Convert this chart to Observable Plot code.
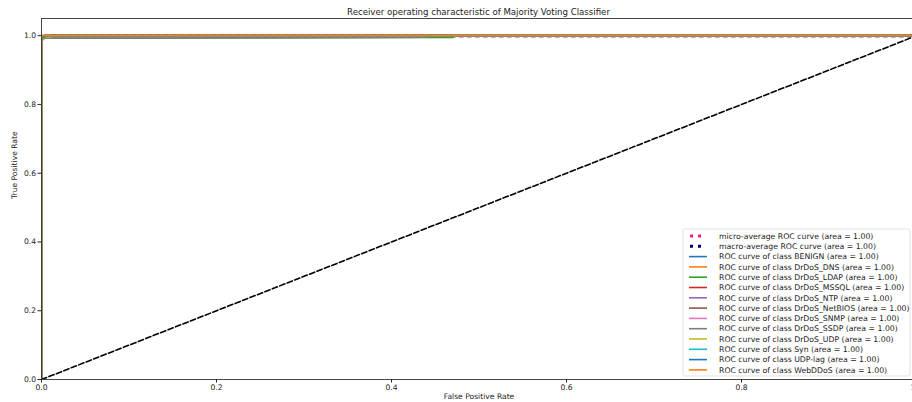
<!DOCTYPE html>
<html>
<head>
<meta charset="utf-8">
<script src="https://cdn.jsdelivr.net/npm/d3@7"></script>
<script src="https://cdn.jsdelivr.net/npm/@observablehq/plot@0.6"></script>
<style>
  html, body { margin: 0; padding: 0; background: #fff; overflow: hidden; }
  #wrap { position: relative; width: 912px; height: 402px; overflow: hidden; font-family: "DejaVu Sans", sans-serif; }
  #title { position: absolute; top: 7px; left: 0; width: 957px; text-align: center; font-size: 8.6px; color: #222; }
  #chart { position: absolute; top: 0; left: 0; width: 918px; }
  #chart svg { max-width: none !important; }
</style>
</head>
<body>
<div id="wrap">
  <div id="chart"></div>
  <div id="title">Receiver operating characteristic of Majority Voting Classifier</div>
</div>
<script>
// ROC curves (false positive rate, true positive rate) for each class
const classes = ["BENIGN", "DrDoS_DNS", "DrDoS_LDAP", "DrDoS_MSSQL", "DrDoS_NTP", "DrDoS_NetBIOS",
  "DrDoS_SNMP", "DrDoS_SSDP", "DrDoS_UDP", "Syn", "UDP-lag", "WebDDoS"];
const classColors = ["#1f77b4", "#ff7f0e", "#2ca02c", "#d62728", "#9467bd", "#8c564b",
  "#e377c2", "#7f7f7f", "#bcbd22", "#17becf", "#1f77b4", "#ff7f0e"];
const classAuc = [1.00, 1.00, 1.00, 1.00, 1.00, 1.00, 1.00, 1.00, 1.00, 1.00, 1.00, 1.00];

const classFpr = [
  [0, 0, 0.0008, 0.003, 1],
  [0, 0, 0.002, 0.006, 1],
  [0, 0, 0.004, 0.47, 0.47, 1],
  [0, 0, 0.001, 0.004, 1],
  [0, 0, 0.0005, 0.002, 1],
  [0, 0, 0.003, 0.01, 1],
  [0, 0, 0.001, 0.005, 1],
  [0, 0, 0.002, 0.44, 0.44, 1],
  [0, 0, 0.003, 0.02, 1],
  [0, 0, 0.0005, 1],
  [0, 0, 0.002, 0.008, 1],
  [0, 0, 1]
];
const classTpr = [
  [0, 0.992, 0.997, 1, 1],
  [0, 0.985, 0.996, 1, 1],
  [0, 0.988, 0.993, 0.995, 1, 1],
  [0, 0.99, 0.998, 1, 1],
  [0, 0.995, 0.999, 1, 1],
  [0, 0.982, 0.995, 1, 1],
  [0, 0.99, 0.997, 1, 1],
  [0, 0.986, 0.993, 0.996, 1, 1],
  [0, 0.984, 0.995, 1, 1],
  [0, 0.999, 1, 1],
  [0, 0.988, 0.996, 1, 1],
  [0, 1, 1]
];

// averaged curves
const microFpr = [0, 0, 0.001, 0.005, 1];
const microTpr = [0, 0.99, 0.997, 1, 1];
const macroFpr = [0, 0, 0.002, 0.01, 1];
const macroTpr = [0, 0.987, 0.996, 1, 1];
const microAuc = 1.00, macroAuc = 1.00;

// chance diagonal
const chanceFpr = [0, 1];
const chanceTpr = [0, 1];

const xTicks = [0, 0.2, 0.4, 0.6, 0.8, 1.0];
const yTicks = [0, 0.2, 0.4, 0.6, 0.8, 1.0];

const toRows = (fpr, tpr, name) => fpr.map((f, i) => ({fpr: f, tpr: tpr[i], name}));
const classRows = classes.flatMap((c, k) => toRows(classFpr[k], classTpr[k], c));
const microRows = toRows(microFpr, microTpr, "micro");
const macroRows = toRows(macroFpr, macroTpr, "macro");
const chanceRows = toRows(chanceFpr, chanceTpr, "chance");

const W = 918, H = 402;
const mL = 41, mR = 2, mT = 18, mB = 23;

const plot = Plot.plot({
  width: W,
  height: H,
  marginLeft: mL,
  marginRight: mR,
  marginTop: mT,
  marginBottom: mB,
  style: {fontFamily: "DejaVu Sans, sans-serif", fontSize: "7.6px", color: "#222", background: "#fff", maxWidth: "none"},
  x: {domain: [0, 1], ticks: xTicks, tickFormat: d3.format(".1f"), tickSize: 3.5, tickPadding: 2, label: null},
  y: {domain: [0, 1.05], ticks: yTicks, tickFormat: d3.format(".1f"), tickSize: 3.5, tickPadding: 2, label: null},
  color: {domain: classes, range: classColors},
  marks: [
    Plot.line(microRows, {x: "fpr", y: "tpr", stroke: "deeppink", strokeWidth: 3, strokeDasharray: "3,5", clip: true}),
    Plot.line(macroRows, {x: "fpr", y: "tpr", stroke: "navy", strokeWidth: 3, strokeDasharray: "3,5", clip: true}),
    Plot.line(classRows, {x: "fpr", y: "tpr", z: "name", stroke: "name", strokeWidth: 1.8, clip: true}),
    Plot.line(chanceRows, {x: "fpr", y: "tpr", stroke: "black", strokeWidth: 1.6, strokeDasharray: "5.5,2.5", clip: true}),
    Plot.frame({stroke: "#333", strokeWidth: 0.9}),
    Plot.axisX({ticks: xTicks, tickFormat: d3.format(".1f"), tickSize: 3.5, tickPadding: 2, label: null}),
    Plot.axisY({ticks: yTicks, tickFormat: d3.format(".1f"), tickSize: 3.5, tickPadding: 2, label: null}),
    Plot.text(["False Positive Rate"], {frameAnchor: "bottom", dy: 19, fontSize: 7.6, fill: "#222"}),
    Plot.text(["True Positive Rate"], {frameAnchor: "left", dx: -27, rotate: -90, fontSize: 7.6, fill: "#222"})
  ]
});
document.getElementById("chart").appendChild(plot);

// legend box inside the lower right of the axes
const svg = d3.select(plot);
const legend = [
  {label: `micro-average ROC curve (area = ${microAuc.toFixed(2)})`, color: "deeppink", dotted: true},
  {label: `macro-average ROC curve (area = ${macroAuc.toFixed(2)})`, color: "navy", dotted: true},
  ...classes.map((c, k) => ({label: `ROC curve of class ${c} (area = ${classAuc[k].toFixed(2)})`, color: classColors[k], dotted: false}))
];
const lx = 683, ly = 229, lw = 227, lh = 147, rowH = 10.3, firstY = 236;
const g = svg.append("g")
  .attr("font-family", "DejaVu Sans, sans-serif")
  .attr("font-size", 7.75)
  .attr("text-anchor", "start");
g.append("rect").attr("x", lx).attr("y", ly).attr("width", lw).attr("height", lh)
  .attr("rx", 2).attr("fill", "white").attr("fill-opacity", 0.85).attr("stroke", "#d8d8d8").attr("stroke-width", 0.8);
legend.forEach((d, i) => {
  const y = firstY + i * rowH;
  g.append("line").attr("x1", d.dotted ? 690 : 689).attr("x2", d.dotted ? 703 : 707).attr("y1", y).attr("y2", y)
    .attr("stroke", d.color)
    .attr("stroke-width", d.dotted ? 3 : 1.6)
    .attr("stroke-dasharray", d.dotted ? "3,5" : null);
  g.append("text").attr("x", 719).attr("y", y).attr("dy", "0.35em").attr("fill", "#222").text(d.label);
});
</script>
</body>
</html>
